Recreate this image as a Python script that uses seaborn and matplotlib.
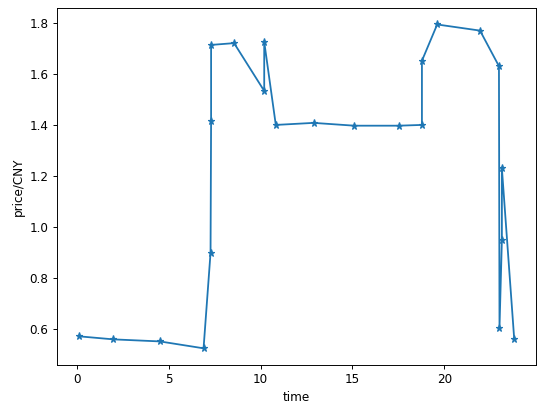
import pandas as pd
import matplotlib
matplotlib.use("Agg")
import matplotlib.pyplot as plt
import seaborn as sns

# values (in drawing order)
time = [0.11, 2.0, 4.52, 6.9, 7.28, 7.31, 7.31, 8.56, 10.2, 10.2, 10.83,
        12.89, 15.1, 17.51, 18.78, 18.78, 19.61, 21.94, 22.97, 23.0,
        23.13, 23.13, 23.8]
price = [0.573, 0.561, 0.553, 0.526, 0.90, 1.415, 1.713, 1.72, 1.533, 1.725,
         1.40, 1.408, 1.397, 1.397, 1.40, 1.651, 1.793, 1.769, 1.63, 0.607,
         0.95, 1.23, 0.563]

df = pd.DataFrame({"time": time, "price": price})

fig, ax = plt.subplots(figsize=(550 / 86, 408 / 86), dpi=86)
sns.lineplot(data=df, x="time", y="price", ax=ax, sort=False, estimator=None,
             marker="*", color="#1f77b4", markeredgecolor="#1f77b4",
             markeredgewidth=1.0, markersize=6, linewidth=1.5)
ax.set_xlabel("time")
ax.set_ylabel("price/CNY")
fig.subplots_adjust(left=0.1036, right=0.9745, top=0.9797, bottom=0.1066)
fig.savefig("out.png", dpi=86)
